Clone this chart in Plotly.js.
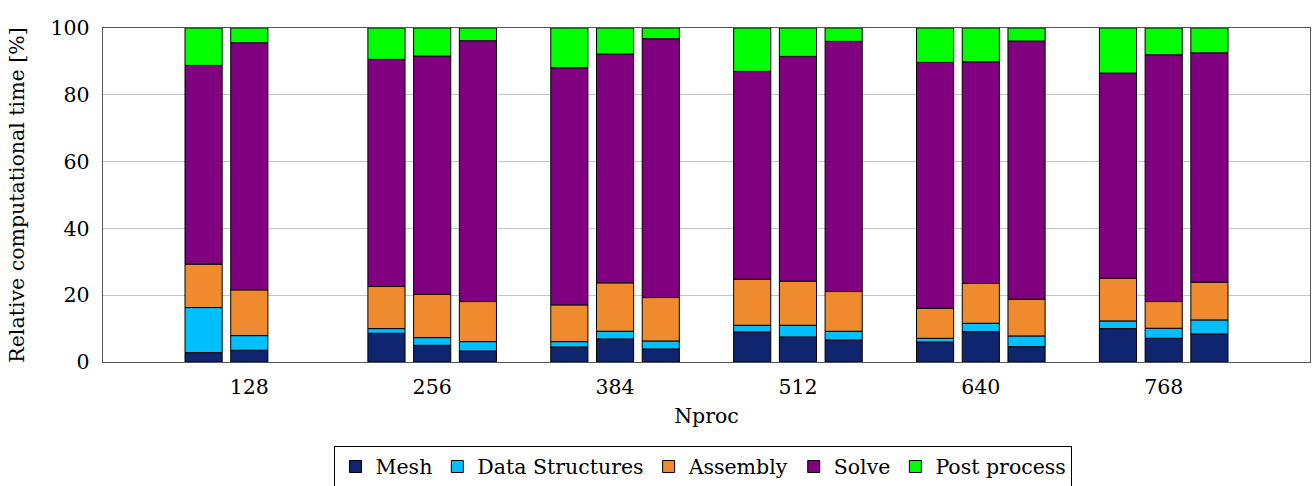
<!DOCTYPE html>
<html>
<head>
<meta charset="utf-8">
<script src="https://cdn.plot.ly/plotly-3.0.1.min.js"></script>
<style>html,body{margin:0;padding:0;background:#fff;}#chart{width:1312px;height:486px;}</style>
</head>
<body>
<div id="chart"></div>
<script>
// Nproc categories
const nproc = [128, 256, 384, 512, 640, 768];
// Three runs per Nproc (a, b, c); 128 has no third run (null)
// Component percentages
const meshA = [2.8, 8.6, 4.5, 9.0, 6.0, 10.0];
const dsA   = [13.5, 1.4, 1.6, 2.0, 1.1, 2.3];
const asmA  = [13.0, 12.6, 11.0, 13.8, 9.0, 12.8];
const solA  = [59.5, 68.0, 71.0, 62.2, 73.6, 61.4];
const postA = [11.2, 9.4, 11.9, 13.0, 10.3, 13.5];

const meshB = [3.5, 5.0, 6.9, 7.5, 9.1, 7.1];
const dsB   = [4.4, 2.3, 2.3, 3.5, 2.5, 3.0];
const asmB  = [13.7, 13.0, 14.5, 13.2, 11.9, 8.0];
const solB  = [74.0, 71.3, 68.5, 67.3, 66.4, 73.9];
const postB = [4.4, 8.4, 7.8, 8.5, 10.1, 8.0];

const meshC = [null, 3.3, 3.9, 6.6, 4.6, 8.4];
const dsC   = [null, 2.8, 2.4, 2.6, 3.2, 4.2];
const asmC  = [null, 12.0, 13.0, 11.9, 11.0, 11.3];
const solC  = [null, 78.1, 77.5, 74.9, 77.3, 68.7];
const postC = [null, 3.8, 3.2, 4.0, 3.9, 7.4];

const names = ["Mesh", "Data Structures", "Assembly", "Solve", "Post process"];
const colors = ["#0f2570", "#00bfff", "#f08a2e", "#800080", "#00ff00"];

const runs = [
  [meshA, dsA, asmA, solA, postA],
  [meshB, dsB, asmB, solB, postB],
  [meshC, dsC, asmC, solC, postC]
];

const barW = 26;      // bar width in axis units
const shift = 32;     // spacing between bars inside a group
const traces = [];
runs.forEach((comps, r) => {
  const base = nproc.map(() => 0);
  comps.forEach((vals, k) => {
    traces.push({
      type: "bar",
      x: nproc,
      y: vals,
      base: base.slice(),
      width: barW,
      offset: (r - 1) * shift - barW / 2,
      name: names[k],
      legendgroup: names[k],
      showlegend: r === 0,
      marker: {color: colors[k], line: {color: "#000", width: 1}},
      hoverinfo: "skip"
    });
    vals.forEach((v, i) => { if (v !== null) base[i] += v; });
  });
});

const font = {family: "DejaVu Serif, Liberation Serif, serif", size: 20.5, color: "#000"};
const layout = {
  width: 1312, height: 486,
  margin: {l: 103, r: 2, t: 28, b: 124, autoexpand: false},
  paper_bgcolor: "#fff", plot_bgcolor: "#fff",
  barmode: "overlay",
  font: font,
  showlegend: true,
  xaxis: {
    range: [25.6, 870.4],
    tickvals: nproc,
    ticktext: nproc.map(String),
    showgrid: false, zeroline: false,
    showline: true, linecolor: "#555", linewidth: 1.3, mirror: true,
    ticks: "", ticklabelstandoff: 6,
    automargin: false,
    title: {text: "Nproc", font: font, standoff: 10},
    tickfont: font
  },
  yaxis: {
    range: [0, 100],
    tickvals: [0, 20, 40, 60, 80, 100],
    showgrid: true, gridcolor: "#c4c4c4", gridwidth: 1,
    zeroline: false,
    showline: true, linecolor: "#555", linewidth: 1.3, mirror: true,
    ticks: "", ticklabelstandoff: 8,
    automargin: false,
    title: {text: "Relative computational time [%]", font: font, standoff: 20},
    tickfont: font
  },
  legend: {
    orientation: "h",
    x: 0.4975, xanchor: "center",
    yref: "container",
    y: 0.083, yanchor: "top",
    bordercolor: "#000", borderwidth: 1,
    font: font,
    traceorder: "normal",
    itemwidth: 30,
    tracegroupgap: 0
  }
};

Plotly.newPlot("chart", traces, layout, {staticPlot: true, displayModeBar: false});
</script>
</body>
</html>
